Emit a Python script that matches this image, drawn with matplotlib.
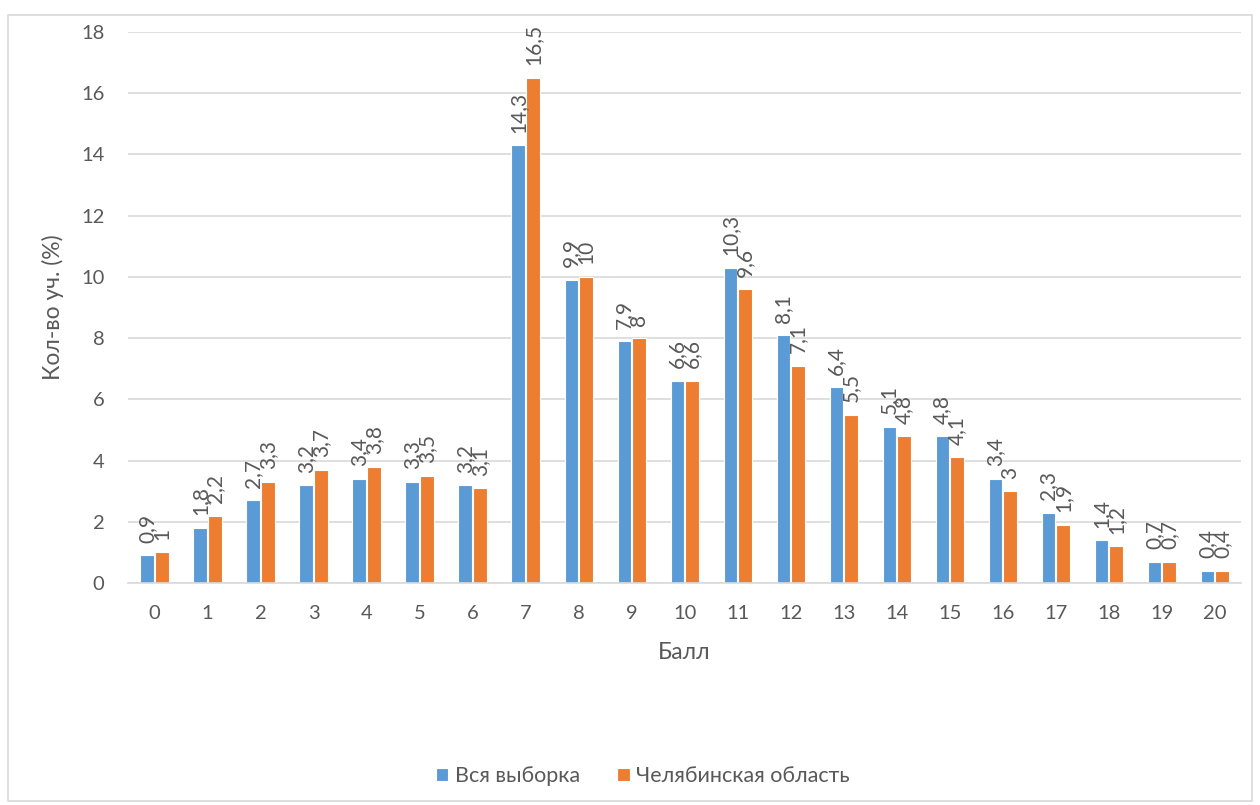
import matplotlib
matplotlib.use("Agg")
import matplotlib.pyplot as plt
import numpy as np
from matplotlib.patches import Rectangle

plt.rcParams["font.family"] = ["Lato", "DejaVu Sans"]

scores = [str(i) for i in range(21)]
all_sample = [0.9, 1.8, 2.7, 3.2, 3.4, 3.3, 3.2, 14.3, 9.9, 7.9, 6.6,
              10.3, 8.1, 6.4, 5.1, 4.8, 3.4, 2.3, 1.4, 0.7, 0.4]
chelyabinsk = [1, 2.2, 3.3, 3.7, 3.8, 3.5, 3.1, 16.5, 10, 8, 6.6,
               9.6, 7.1, 5.5, 4.8, 4.1, 3, 1.9, 1.2, 0.7, 0.4]
series_names = ["Вся выборка", "Челябинская область"]

BLUE = "#5B9BD5"
ORANGE = "#ED7D31"
TEXT = "#595959"
GRID = "#D9D9D9"


def fmt(v):
    s = f"{v:g}"
    return s.replace(".", ",")


fig = plt.figure(figsize=(12.6, 8.05), dpi=100)
fig.patches.append(Rectangle((0.006, 0.005), 0.988, 0.976, transform=fig.transFigure,
                             fill=False, edgecolor=GRID, linewidth=1.2))
ax = fig.add_axes([0.1016, 0.2758, 0.8834, 0.6844])

x = np.arange(len(scores))
w = 0.25
off = 0.14
b1 = ax.bar(x - off, all_sample, w, color=BLUE, edgecolor="white", linewidth=0.8,
            label=series_names[0], zorder=2)
b2 = ax.bar(x + off, chelyabinsk, w, color=ORANGE, edgecolor="white", linewidth=0.8,
            label=series_names[1], zorder=2)

# value labels, rotated like in Excel (they overlap there too)
for bars, vals in ((b1, all_sample), (b2, chelyabinsk)):
    for bar, v in zip(bars, vals):
        ax.annotate(fmt(v), (bar.get_x() + bar.get_width() / 2, v),
                    xytext=(0, 9), textcoords="offset points",
                    rotation=90, ha="center", va="bottom",
                    fontsize=15, color=TEXT, zorder=3)

ax.set_xlim(-0.5, len(scores) - 0.5)
ax.set_ylim(0, 18)
ax.set_yticks(np.arange(0, 19, 2))
ax.set_xticks(x)
ax.set_xticklabels(scores)
ax.grid(axis="y", color=GRID, linewidth=1.2, zorder=0)
ax.set_axisbelow(True)
for s in ("top", "right", "left"):
    ax.spines[s].set_visible(False)
ax.spines["bottom"].set_color(GRID)
ax.spines["bottom"].set_linewidth(1.2)
ax.tick_params(axis="both", length=0, labelsize=14.5, labelcolor=TEXT)
ax.tick_params(axis="y", pad=17)
ax.tick_params(axis="x", pad=16)

ax.set_xlabel("Балл", fontsize=16.5, color=TEXT, labelpad=14)
ax.set_ylabel("Кол-во уч. (%)", fontsize=16.5, color=TEXT, labelpad=12)

fig.legend(handles=[b1, b2], loc="center", bbox_to_anchor=(0.51, 0.036), ncol=2,
           frameon=False, fontsize=15.5, labelcolor=TEXT, handlelength=0.6,
           handleheight=0.6, handletextpad=0.3, columnspacing=1.7)

fig.savefig("out.png", dpi=100)
plt.close(fig)
